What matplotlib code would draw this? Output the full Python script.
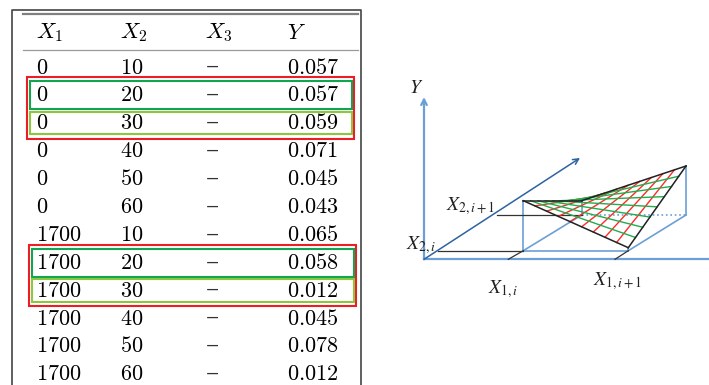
import numpy as np
import matplotlib
matplotlib.use("Agg")
import matplotlib.pyplot as plt
from matplotlib.patches import Rectangle

# table data
headers = [r"$X_1$", r"$X_2$", r"$X_3$", r"$Y$"]
x1_vals = [0, 0, 0, 0, 0, 0, 1700, 1700, 1700, 1700, 1700, 1700]
x2_vals = [10, 20, 30, 40, 50, 60, 10, 20, 30, 40, 50, 60]
x3_vals = ["–"] * 12
y_vals = [0.057, 0.057, 0.059, 0.071, 0.045, 0.043, 0.065, 0.058, 0.012, 0.045, 0.078, 0.012]
highlight_pairs = [(1, 2), (7, 8)]

# diagram labels
diagram_labels = [r"$Y$", r"$X_{2,i+1}$", r"$X_{2,i}$", r"$X_{1,i}$", r"$X_{1,i+1}$"]

RED = "#ee1c25"
GREEN = "#10a550"
LIGHT_GREEN = "#8dc63f"
LIGHT_BLUE = "#6b9fd6"
DARK_BLUE = "#2d62a3"


def draw_table(ax):
    # frame
    ax.plot([12, 12, 361, 361], [390, 10, 10, 390], color="#444444", lw=1.2)
    ax.plot([23, 358], [13.5, 13.5], color="#808080", lw=1.6)
    ax.plot([23, 358], [49.5, 49.5], color="#9a9a9a", lw=0.9)

    col_x = [36, 120, 205, 287]
    for x, h in zip(col_x, headers):
        ax.text(x, 33, h, fontsize=16, ha="left", va="center", math_fontfamily="cm")

    row_y0, row_h = 67.5, 27.9
    for i in range(len(y_vals)):
        y = row_y0 + i * row_h
        ax.text(36, y, "$%d$" % x1_vals[i], fontsize=16, ha="left", va="center", math_fontfamily="cm")
        ax.text(120, y, "$%d$" % x2_vals[i], fontsize=16, ha="left", va="center", math_fontfamily="cm")
        ax.text(212, y - 1, x3_vals[i], fontsize=19, ha="center", va="center", family="DejaVu Serif",
                color="#333333")
        ax.text(287, y, "$%.3f$" % y_vals[i], fontsize=16, ha="left", va="center", math_fontfamily="cm")

    # highlighted rows
    for k, (r1, r2) in enumerate(highlight_pairs):
        dx = 2 * k
        y1 = row_y0 + r1 * row_h
        y2 = row_y0 + r2 * row_h
        ax.add_patch(Rectangle((27 + dx, y1 - 18), 327, (y2 - y1) + 33.5, fill=False, ec=RED, lw=1.5))
        ax.add_patch(Rectangle((29.5 + dx, y1 - 14), 322, 28, fill=False, ec=GREEN, lw=1.5))
        ax.add_patch(Rectangle((29.5 + dx, y2 - 11.5), 322, 22.5, fill=False, ec=LIGHT_GREEN, lw=1.5))


def draw_diagram(ax):
    O = np.array([424, 259.3])
    # axes
    ax.plot([O[0], 709], [O[1], O[1]], color=LIGHT_BLUE, lw=1.6)
    ax.annotate("", xy=(424, 97), xytext=O,
                arrowprops=dict(arrowstyle="->", color=LIGHT_BLUE, lw=1.6, shrinkA=0, shrinkB=0))
    ax.annotate("", xy=(580, 158), xytext=O,
                arrowprops=dict(arrowstyle="->", color=DARK_BLUE, lw=1.1, shrinkA=0, shrinkB=0))

    # surface corners
    A = np.array([523.3, 200.7])
    B = np.array([581.7, 200.7])
    C = np.array([686.0, 166.0])
    D = np.array([628.3, 247.7])
    P1 = np.array([523.3, 250.7])
    P2 = np.array([628.3, 250.7])
    P3 = np.array([686.0, 215.0])
    P4 = np.array([581.7, 215.0])

    # base and verticals
    for p, q in [(P1, P2), (P2, P3), (P1, P4), (A, P1), (C, P3), (B, P4), (D, P2)]:
        ax.plot([p[0], q[0]], [p[1], q[1]], color=LIGHT_BLUE, lw=1.2)
    ax.plot([P4[0], P3[0]], [P4[1], P3[1]], color=LIGHT_BLUE, lw=1.2, ls=":")

    # leaders and ticks
    ax.plot([438, P1[0]], [250.7, 250.7], color="#333333", lw=0.9)
    ax.plot([496.7, P4[0]], [214.5, 214.5], color="#333333", lw=0.9)
    ax.plot([508.3, P1[0]], [259.3, 250.7], color="#333333", lw=0.9)
    ax.plot([615, P2[0]], [259.3, 250.7], color="#333333", lw=0.9)

    # bilinear patch grid
    def S(u, v):
        return (1 - u) * (1 - v) * A + u * (1 - v) * D + (1 - u) * v * B + u * v * C

    for u in np.linspace(0, 1, 10)[1:-1]:
        p, q = S(u, 0), S(u, 1)
        ax.plot([p[0], q[0]], [p[1], q[1]], color="#ff2a2a", lw=1.0)
    for v in np.linspace(0, 1, 9)[1:-1]:
        p, q = S(0, v), S(1, v)
        ax.plot([p[0], q[0]], [p[1], q[1]], color="#1fae4b", lw=1.0)

    # outline
    for p, q in [(A, B), (B, C), (C, D), (D, A)]:
        ax.plot([p[0], q[0]], [p[1], q[1]], color="#222222", lw=1.1)

    pos = [(416.5, 87.5), (471, 206), (421, 245), (503, 289), (618, 281.5)]
    for (x, y), lab in zip(pos, diagram_labels):
        ax.text(x, y, lab, fontsize=14, ha="center", va="center", math_fontfamily="stix", color="#222222")


def main():
    fig = plt.figure(figsize=(7.09, 3.85), dpi=100)
    ax = fig.add_axes([0, 0, 1, 1])
    ax.set_xlim(0, 709)
    ax.set_ylim(385, 0)
    ax.axis("off")

    draw_table(ax)
    draw_diagram(ax)

    fig.savefig("out.png", dpi=100)


if __name__ == "__main__":
    main()
